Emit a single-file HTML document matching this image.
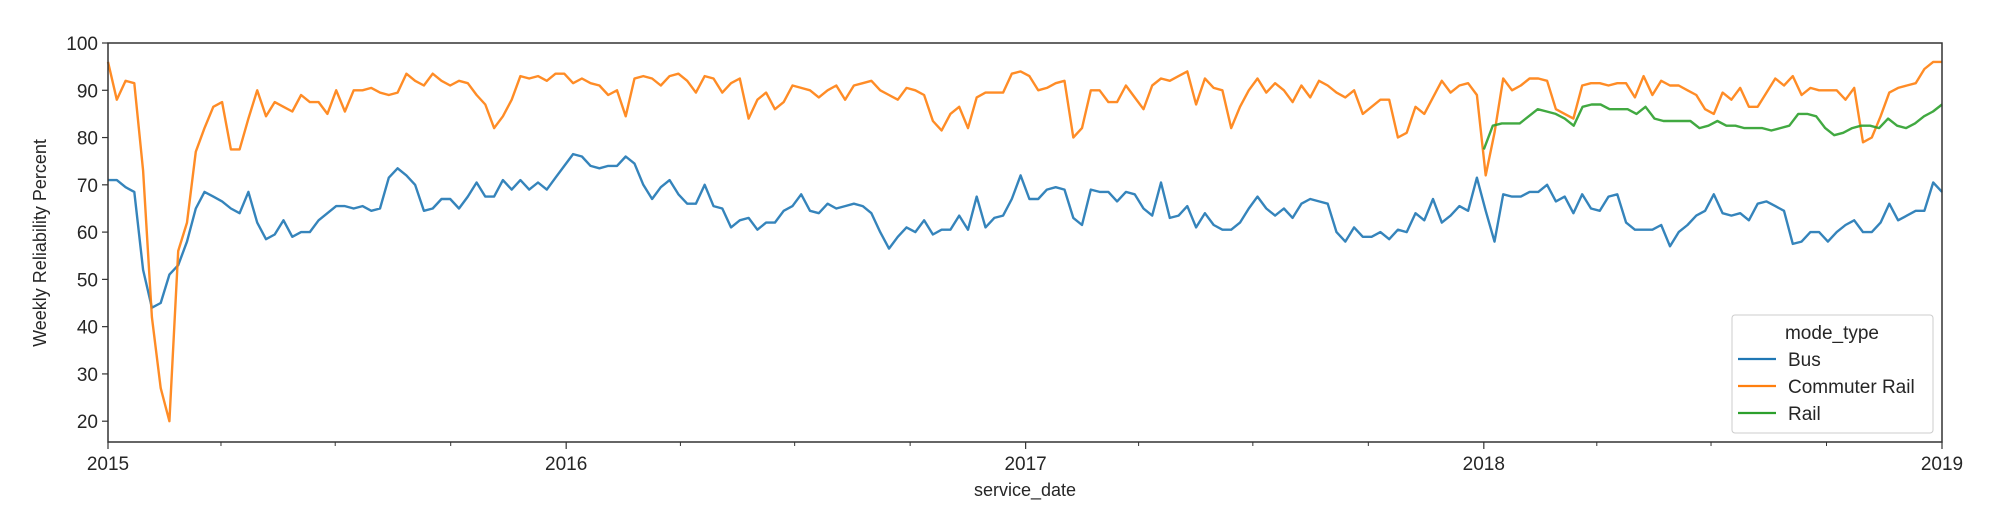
<!DOCTYPE html>
<html><head><meta charset="utf-8"><style>
body{margin:0;background:#fff;}
svg text{font-family:"Liberation Sans","DejaVu Sans",sans-serif;fill:#262626;}
</style></head><body>
<svg id="chart" width="2006" height="526" xmlns="http://www.w3.org/2000/svg">
<g id="plot"></g>
<g id="axes"></g>
<text transform="translate(46,243) rotate(-90)" text-anchor="middle" font-size="18">Weekly Reliability Percent</text>
<text x="1025" y="496" text-anchor="middle" font-size="18">service_date</text>
<g>
<rect x="1732" y="315" width="201" height="118" rx="3" fill="#fff" stroke="#ccc" stroke-width="1"/>
<text x="1832" y="339" text-anchor="middle" font-size="19">mode_type</text>
<line x1="1738" y1="359" x2="1776" y2="359" stroke="#1f77b4" stroke-width="2.2"/>
<text x="1788" y="366" font-size="19">Bus</text>
<line x1="1738" y1="386" x2="1776" y2="386" stroke="#ff7f0e" stroke-width="2.2"/>
<text x="1788" y="393" font-size="19">Commuter Rail</text>
<line x1="1738" y1="413" x2="1776" y2="413" stroke="#2ca02c" stroke-width="2.2"/>
<text x="1788" y="420" font-size="19">Rail</text>
</g>
</svg>
<script>
const commuterRail=[96,88,92,91.5,73,42,27,20,56,62,77,82,86.5,87.5,77.5,77.5,84,90,84.5,87.5,86.5,85.5,89,87.5,87.5,85,90,85.5,90,90,90.5,89.5,89,89.5,93.5,92,91,93.5,92,91,92,91.5,89,87,82,84.5,88,93,92.5,93,92,93.5,
93.5,91.5,92.5,91.5,91,89,90,84.5,92.5,93,92.5,91,93,93.5,92,89.5,93,92.5,89.5,91.5,92.5,84,88,89.5,86,87.5,91,90.5,90,88.5,90,91,88,91,91.5,92,90,89,88,90.5,90,89,83.5,81.5,85,86.5,82,88.5,89.5,89.5,89.5,93.5,
94,93,90,90.5,91.5,92,80,82,90,90,87.5,87.5,91,88.5,86,91,92.5,92,93,94,87,92.5,90.5,90,82,86.5,90,92.5,89.5,91.5,90,87.5,91,88.5,92,91,89.5,88.5,90,85,86.5,88,88,80,81,86.5,85,88.5,92,89.5,91,91.5,89,
72,81,92.5,90,91,92.5,92.5,92,86,85,84,91,91.5,91.5,91,91.5,91.5,88.5,93,89,92,91,91,90,89,86,85,89.5,88,90.5,86.5,86.5,89.5,92.5,91,93,89,90.5,90,90,90,88,90.5,79,80,84.5,89.5,90.5,91,91.5,94.5,96,96];
const bus=[71,71,69.5,68.5,52,44,45,51,53,58,65,68.5,67.5,66.5,65,64,68.5,62,58.5,59.5,62.5,59,60,60,62.5,64,65.5,65.5,65,65.5,64.5,65,71.5,73.5,72,70,64.5,65,67,67,65,67.5,70.5,67.5,67.5,71,69,71,69,70.5,69,71.5,
74,76.5,76,74,73.5,74,74,76,74.5,70,67,69.5,71,68,66,66,70,65.5,65,61,62.5,63,60.5,62,62,64.5,65.5,68,64.5,64,66,65,65.5,66,65.5,64,60,56.5,59,61,60,62.5,59.5,60.5,60.5,63.5,60.5,67.5,61,63,63.5,67,
72,67,67,69,69.5,69,63,61.5,69,68.5,68.5,66.5,68.5,68,65,63.5,70.5,63,63.5,65.5,61,64,61.5,60.5,60.5,62,65,67.5,65,63.5,65,63,66,67,66.5,66,60,58,61,59,59,60,58.5,60.5,60,64,62.5,67,62,63.5,65.5,64.5,71.5,64.5,
58,68,67.5,67.5,68.5,68.5,70,66.5,67.5,64,68,65,64.5,67.5,68,62,60.5,60.5,60.5,61.5,57,60,61.5,63.5,64.5,68,64,63.5,64,62.5,66,66.5,65.5,64.5,57.5,58,60,60,58,60,61.5,62.5,60,60,62,66,62.5,63.5,64.5,64.5,70.5,68.5];
const rail=[77.5,82.5,83,83,83,84.5,86,85.5,85,84,82.5,86.5,87,87,86,86,86,85,86.5,84,83.5,83.5,83.5,83.5,82,82.5,83.5,82.5,82.5,82,82,82,81.5,82,82.5,85,85,84.5,82,80.5,81,82,82.5,82.5,82,84,82.5,82,83,84.5,85.5,87];
const yTicks=[20,30,40,50,60,70,80,90,100];
const xTickLabels=["2015","2016","2017","2018","2019"];

const L=108,R=1942,T=43,B=442,YMIN=15.6,YMAX=100;
const t0=Date.UTC(2015,0,1),t1=Date.UTC(2019,0,1);
function xs(t){return L+(t-t0)/(t1-t0)*(R-L);}
function ys(v){return B-(v-YMIN)/(YMAX-YMIN)*(B-T);}
const NS="http://www.w3.org/2000/svg";
function mk(tag,attrs,parent){const e=document.createElementNS(NS,tag);for(const k in attrs)e.setAttribute(k,attrs[k]);parent.appendChild(e);return e;}
const plot=document.getElementById('plot'),axes=document.getElementById('axes');
function drawSeries(vals,start,end,color,name){
  const pts=vals.map((v,i)=>{const t=start+(end-start)*i/(vals.length-1);return xs(t).toFixed(1)+','+ys(v).toFixed(1);});
  const p=mk('polyline',{points:pts.join(' '),fill:'none',stroke:color,'stroke-width':2.4,'stroke-linejoin':'round','stroke-opacity':0.9},plot);
  
  
}
drawSeries(bus,t0,t1,'#1f77b4','bus-line');
drawSeries(commuterRail,t0,t1,'#ff7f0e','commuter-rail-line');
drawSeries(rail,Date.UTC(2018,0,1),t1,'#2ca02c','rail-line');
const frame=mk('rect',{x:L,y:T,width:R-L,height:B-T,fill:'none',stroke:'#333','stroke-width':1.5},axes);


yTicks.forEach(v=>{
  const y=ys(v);
  mk('line',{x1:L-6,x2:L,y1:y,y2:y,stroke:'#333','stroke-width':1.2},axes);
  const tx=mk('text',{x:L-10,y:y+7,'text-anchor':'end','font-size':'19'},axes);
  tx.textContent=v;
  
  
});
xTickLabels.forEach((lab,i)=>{
  const yr=2015+i,x=xs(Date.UTC(yr,0,1));
  mk('line',{x1:x,x2:x,y1:B,y2:B+7,stroke:'#333','stroke-width':1.2},axes);
  const tx=mk('text',{x:x,y:B+28,'text-anchor':'middle','font-size':'19'},axes);
  tx.textContent=lab;
  
  
  if(yr<2019)[3,6,9].forEach(m=>{const mx=xs(Date.UTC(yr,m,1));mk('line',{x1:mx,x2:mx,y1:B,y2:B+4,stroke:'#333','stroke-width':1},axes);});
});
</script>
</body></html>
